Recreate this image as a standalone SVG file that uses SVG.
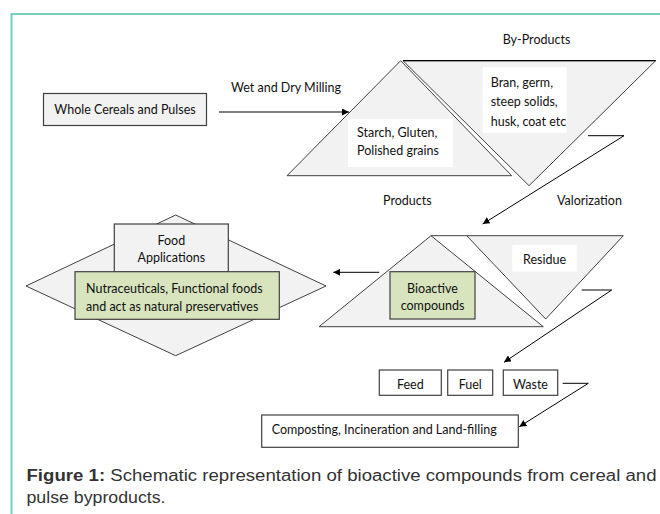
<svg xmlns="http://www.w3.org/2000/svg" width="660" height="514" viewBox="0 0 660 514">
<defs>
<marker id="ah" viewBox="0 0 10 10" refX="10" refY="5" markerWidth="7" markerHeight="7" markerUnits="userSpaceOnUse" orient="auto"><path d="M0,0 L10,5 L0,10 z" fill="#000"/></marker>
<style>
.t{font-family:Lato,"Liberation Sans",sans-serif;font-size:12.5px;fill:#111}
.c{text-anchor:middle}
.shape{fill:#f2f2f2;stroke:#404040;stroke-width:1}
.box{fill:#f2f2f2;stroke:#404040;stroke-width:1.2}
.green{fill:#d7e4bd;stroke:#404040;stroke-width:1.2}
.wbox{fill:#fff;stroke:#404040;stroke-width:1.2}
.white{fill:#fff;stroke:none}
.conn{fill:none;stroke:#000;stroke-width:1}
.cap{font-family:"Liberation Sans",Arial,sans-serif;font-size:16px;fill:#333}
</style>
</defs>
<rect width="660" height="514" fill="#fff"/>
<path d="M11.5,514 V14 H660" fill="none" stroke="#74cfc0" stroke-width="2"/>

<g id="whole-cereals">
<rect class="box" x="43.5" y="93.5" width="163" height="32"/>
<text class="t c" x="125" y="113.5">Whole Cereals and Pulses</text>
</g>

<g id="milling-label"><text class="t" x="231" y="92">Wet and Dry Milling</text></g>

<g id="products">
<polygon class="shape" points="400.7,60.7 287,175.7 511.7,175.7"/>
<rect class="white" x="348" y="119" width="105" height="48"/>
<text class="t" x="357" y="137">Starch, Gluten,</text>
<text class="t" x="357" y="155">Polished grains</text>
<text class="t" x="383" y="205">Products</text>
</g>

<g id="by-products">
<polygon class="shape" points="403,60.7 655.7,60.7 529,185.7"/>
<line x1="403" y1="60.7" x2="655.7" y2="60.7" stroke="#000" stroke-width="1.2"/>
<rect class="white" x="482.7" y="67" width="84" height="66"/>
<text class="t" x="490.7" y="86.5">Bran, germ,</text>
<text class="t" x="490.7" y="106">steep solids,</text>
<text class="t" x="490.7" y="126">husk, coat etc</text>
<text class="t" x="502.7" y="44">By-Products</text>
<text class="t" x="557" y="205">Valorization</text>
</g>

<g id="bioactive">
<polygon class="shape" points="431,235.7 319,326.7 543.3,326.7"/>
<rect class="green" x="390" y="271.7" width="85" height="47.3"/>
<text class="t c" x="432.5" y="292.5">Bioactive</text>
<text class="t c" x="432.5" y="310">compounds</text>
</g>

<g id="residue">
<polygon class="shape" points="466.7,235.7 623.3,235.7 545.7,319"/>
<line x1="431" y1="235.7" x2="466.7" y2="235.7" stroke="#404040" stroke-width="1"/>
<rect class="white" x="512.3" y="245" width="64.4" height="26.7"/>
<text class="t c" x="544.5" y="264">Residue</text>
</g>

<g id="food-applications">
<polygon class="shape" points="175.7,215 326,286 175.7,355.7 26,286"/>
<rect class="box" x="114.3" y="224" width="114" height="48"/>
<text class="t c" x="171.3" y="245">Food</text>
<text class="t c" x="171.3" y="261.5">Applications</text>
<rect class="green" x="75" y="271.7" width="204.3" height="47.6"/>
<text class="t" x="86" y="292.5">Nutraceuticals, Functional foods</text>
<text class="t" x="86" y="310.5">and act as natural preservatives</text>
</g>

<g id="feed"><rect class="wbox" x="379.3" y="370" width="62" height="25.3"/><text class="t c" x="410.3" y="389">Feed</text></g>
<g id="fuel"><rect class="wbox" x="447.7" y="370" width="45" height="25.3"/><text class="t c" x="470.2" y="389">Fuel</text></g>
<g id="waste"><rect class="wbox" x="503.3" y="370" width="54.4" height="25.3"/><text class="t c" x="530.5" y="389">Waste</text></g>

<g id="composting">
<rect class="wbox" x="261.7" y="415" width="256.6" height="32.3"/>
<text class="t" x="271.7" y="434">Composting, Incineration and Land-filling</text>
</g>

<g id="connectors">
<line class="conn" x1="219" y1="112" x2="349" y2="112" marker-end="url(#ah)"/>
<polyline class="conn" points="588,135.7 624,135.7 482.7,224" marker-end="url(#ah)"/>
<line class="conn" x1="379.3" y1="272.3" x2="333.3" y2="272.3" marker-end="url(#ah)"/>
<polyline class="conn" points="581.7,290 611.7,290 504,362.3" marker-end="url(#ah)"/>
<polyline class="conn" points="562.7,383.3 588.3,383.3 519.3,426.7" marker-end="url(#ah)"/>
</g>

<g id="caption">
<text class="cap" x="26.5" y="480.5" textLength="630" lengthAdjust="spacingAndGlyphs"><tspan font-weight="bold">Figure 1:</tspan> Schematic representation of bioactive compounds from cereal and</text>
<text class="cap" x="26.5" y="503" textLength="139" lengthAdjust="spacingAndGlyphs">pulse byproducts.</text>
</g>
</svg>
